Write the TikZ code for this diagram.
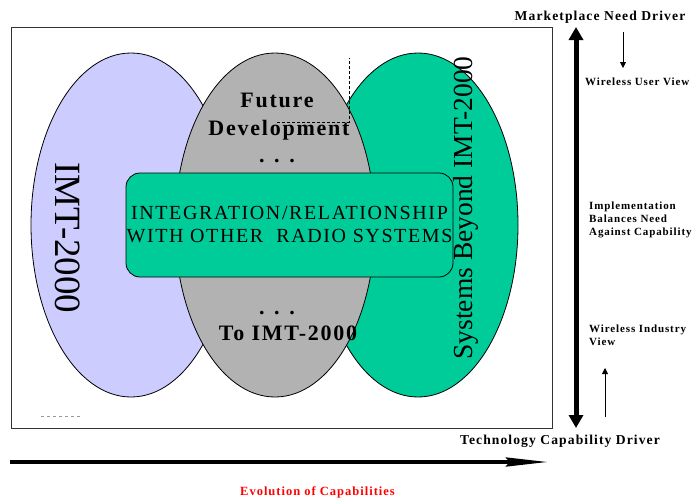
\documentclass[tikz,border=0pt]{standalone}
\usepackage{fontspec}
\setmainfont{Liberation Serif}[LetterSpace=8]
\newfontfamily\plainrm{Liberation Serif}
\usepackage{tikz}
\usetikzlibrary{positioning,arrows.meta,shapes.geometric}
\definecolor{lav}{HTML}{CCCCFF}
\definecolor{stone}{HTML}{B2B2B2}
\definecolor{sea}{HTML}{00CC99}

\begin{document}
\begin{tikzpicture}[x=1pt,y=-1pt,>=Stealth,every node/.style={inner sep=0pt}]
\tikzstyle{oval}=[draw,ellipse,line width=0.8pt,minimum width=200pt,minimum height=344pt]
\tikzstyle{drv}=[font=\bfseries\fontsize{13.6}{16}\selectfont]
\tikzstyle{view}=[font=\bfseries\fontsize{11}{13}\selectfont,align=left,anchor=north west]
\tikzstyle{big}=[font=\bfseries\fontsize{22}{28}\selectfont,anchor=base]
\tikzstyle{tall}=[font=\plainrm\fontsize{27.5}{30}\selectfont]
\tikzstyle{thin}=[line width=0.8pt,-{Triangle[length=6pt,width=6pt]}]
\useasboundingbox (0,0) rectangle (693,501);
% frame
\draw[line width=0.8pt,draw=black!80] (11,27) rectangle (552,428);
% the three ovals
\node[oval,fill=lav] (imtE) at (131,225) {};
\node[oval,fill=sea] (beyE) at (418,225) {};
\node[oval,fill=stone] (futE) at (275,225) {};
\draw[densely dashed,line width=0.5pt] (277,122) -- (349,122) -- (349,58);
\draw[dashed,line width=0.6pt,draw=black!40] (41,416) -- (81,416);
% texts in the ovals
\node[tall,font=\plainrm\fontsize{37}{40}\selectfont,rotate=-90] (imt) at (68,238) {IMT-2000};
\node[tall,rotate=90] (bey) at (466,208) {Systems Beyond IMT-2000};
\node[big] (fut) at (277,107) {Future};
\node[big] (dev) at (279,135) {Development};
\node[big] (dots1) at (277,162) {. . .};
\node[big] (dots2) at (277,314) {. . .};
\node[big] (toimt) at (288,340) {To IMT-2000};
% middle box
\node[draw,fill=sea,rounded corners=14pt,line width=0.8pt,minimum width=327pt,minimum height=104pt,
  align=center,font=\fontsize{20}{23}\selectfont] (integ) at (289.5,225)
  {INTEGRATION/RELATIONSHIP\\WITH OTHER\ \ RADIO SYSTEMS};
% right side
\coordinate (mtop) at (576,27);
\coordinate (mbot) at (576,428);
\draw[line width=5pt,{Triangle[length=13pt,width=14pt]}-{Triangle[length=13pt,width=14pt]}] (mbot) -- (mtop);
\node[drv] (mkt) at (600,17) {Marketplace Need Driver};
\node[drv] (tech) at (560,441) {Technology Capability Driver};
\node[view] (user) at (585,78) {Wireless User View};
\node[view] (impl) at (589,202) {Implementation\\Balances Need\\Against Capability};
\node[view] (ind) at (589,325) {Wireless Industry\\View};
\coordinate (dnA) at (623,32);
\coordinate (dnB) at (623,68);
\draw[thin] (dnA) -- (dnB);
\coordinate (upA) at (605,417);
\coordinate (upB) at (605,368);
\draw[thin] (upA) -- (upB);
% bottom
\coordinate (evA) at (10,462);
\coordinate (evB) at (548,462);
\draw[line width=4pt,-{Stealth[length=42pt,width=9pt,inset=4pt]}] (evA) -- (evB);
\node[drv,font=\bfseries\fontsize{12.5}{15}\selectfont,text=red] (evo) at (317.5,492) {Evolution of Capabilities};
\end{tikzpicture}
\end{document}
